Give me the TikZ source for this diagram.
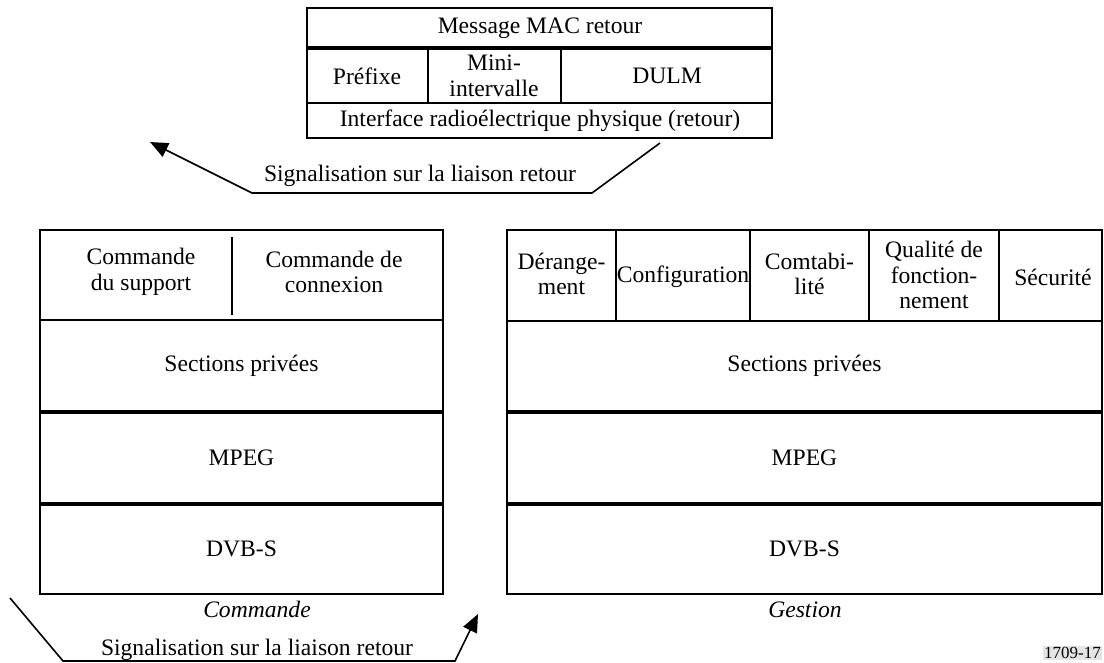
\documentclass[tikz,border=0pt]{standalone}
\usepackage{fontspec}
\setmainfont{Liberation Serif}
\usetikzlibrary{arrows.meta}
\begin{document}
\begin{tikzpicture}[x=1pt,y=-1pt,
  lbl/.style={font=\fontsize{23.6}{25.5}\selectfont, align=center, inner sep=0pt},
  ilbl/.style={lbl, font=\fontsize{23.6}{25.5}\selectfont\itshape},
  boxline/.style={line width=1.6pt},
  midline/.style={line width=2.4pt},
  sepline/.style={line width=3.4pt},
  sigarrow/.style={line width=1.6pt, -{Triangle[length=18pt,width=15pt]}}
]
\useasboundingbox (0,0) rectangle (1104,663);

% ---------- top box : Message MAC retour ----------
\draw[boxline] (307,8) rectangle (772,138);
\draw[sepline] (307,48) -- (772,48);
\draw[boxline] (307,103) -- (772,103);
\draw[boxline] (428,48) -- (428,103);
\draw[boxline] (561,48) -- (561,103);
\node[lbl] (mac) at (540,28) {Message MAC retour};
\node[lbl] (pref) at (367,76) {Préfixe};
\node[lbl] (mini) at (494,76) {Mini-\\intervalle};
\node[lbl] (dulm) at (667,76) {DULM};
\node[lbl] (phy) at (540,121) {Interface radioélectrique physique (retour)};

% top signalling arrow
\coordinate (ta) at (660,143);
\coordinate (tb) at (592,193);
\coordinate (tc) at (252,193);
\coordinate (td) at (150,142);
\draw[sigarrow] (ta) -- (tb) -- (tc) -- (td);
\node[lbl, anchor=base] (sigtop) at (420,182) {Signalisation sur la liaison retour};

% ---------- left box : Commande ----------
\draw[boxline] (40,230) rectangle (443,594);
\draw[midline] (40,320) -- (443,320);
\draw[sepline] (40,412) -- (443,412);
\draw[sepline] (40,504) -- (443,504);
\draw[boxline] (232,237) -- (232,315);
\node[lbl] (csup) at (141,272) {Commande\\du support};
\node[lbl] (ccon) at (334,272) {Commande de\\connexion};
\node[lbl] (lsec) at (241.5,366) {Sections privées};
\node[lbl] (lmpeg) at (241.5,458) {MPEG};
\node[lbl] (ldvb) at (241.5,549) {DVB-S};
\node[ilbl, anchor=base] (cmd) at (257,617) {Commande};

% bottom signalling arrow
\coordinate (ba) at (10,598);
\coordinate (bb) at (63,661);
\coordinate (bc) at (455,661);
\coordinate (bd) at (478,614);
\draw[sigarrow] (ba) -- (bb) -- (bc) -- (bd);
\node[lbl, anchor=base] (sigbot) at (257,655) {Signalisation sur la liaison retour};

% ---------- right box : Gestion ----------
\draw[boxline] (507,230) rectangle (1102,594);
\draw[midline] (507,321) -- (1102,321);
\draw[sepline] (507,412) -- (1102,412);
\draw[sepline] (507,504) -- (1102,504);
\draw[boxline] (616,230) -- (616,321);
\draw[boxline] (750,230) -- (750,321);
\draw[boxline] (869,230) -- (869,321);
\draw[boxline] (999,230) -- (999,321);
\node[lbl] (der) at (561.5,274) {Dérange-\\ment};
\node[lbl] (conf) at (683,277) {Configuration};
\node[lbl] (comt) at (809.5,274) {Comtabi-\\lité};
\node[lbl] (qual) at (934,275) {Qualité de\\fonction-\\nement};
\node[lbl] (secu) at (1053,277) {Sécurité};
\node[lbl] (rsec) at (804.5,366) {Sections privées};
\node[lbl] (rmpeg) at (804.5,458) {MPEG};
\node[lbl] (rdvb) at (804.5,549) {DVB-S};
\node[ilbl, anchor=base] (gest) at (805,617) {Gestion};

% figure reference
\node[anchor=south east, fill=gray!20, inner sep=1pt,
      font=\fontsize{17}{17}\selectfont] (ref) at (1102,660) {1709-17};
\end{tikzpicture}
\end{document}
